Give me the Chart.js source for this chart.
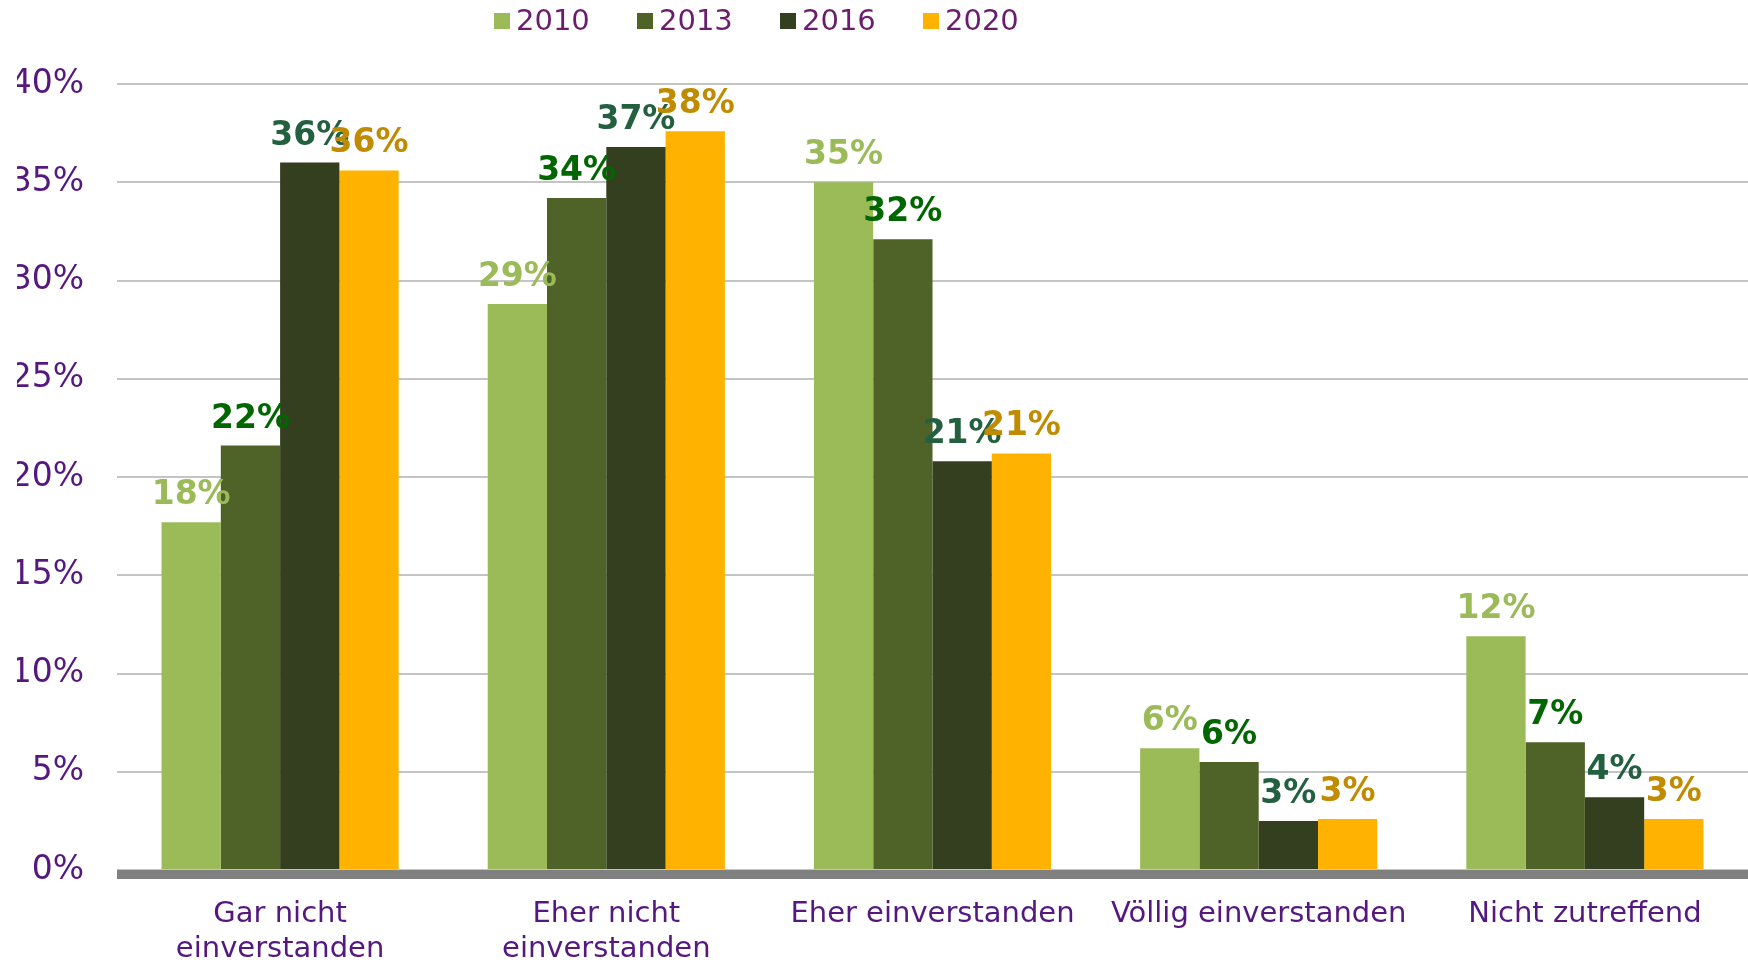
<!DOCTYPE html>
<html>
<head>
<meta charset="utf-8">
<title>Umfrage</title>
<script src="https://cdn.jsdelivr.net/npm/chart.js@4.4.1/dist/chart.umd.min.js"></script>
<style>
  html, body { margin: 0; padding: 0; background: #fff; }
  #wrap { width: 1748px; height: 963px; position: relative; }
</style>
</head>
<body>
<div id="wrap"><canvas id="bar-chart"></canvas></div>
<script>
const categories = [
  ['Gar nicht', 'einverstanden'],
  ['Eher nicht', 'einverstanden'],
  'Eher einverstanden',
  'Völlig einverstanden',
  'Nicht zutreffend'
];
const years = ['2010', '2013', '2016', '2020'];
const values2010 = [17.7, 28.8, 35.0, 6.2, 11.9];
const values2013 = [21.6, 34.2, 32.1, 5.5, 6.5];
const values2016 = [36.0, 36.8, 20.8, 2.5, 3.7];
const values2020 = [35.6, 37.6, 21.2, 2.6, 2.6];
const yMax = 40;
const yStep = 5;

const barColors = ['#9bbb59', '#4f6228', '#333f1f', '#ffb300'];
const labelColors = ['#9bbb59', '#006600', '#23603f', '#c08b00'];
const fontFamily = "'DejaVu Sans', Verdana, sans-serif";
const axisColor = '#54187f';
const legendColor = '#6b1d6d';

// value labels over the bars, the thick baseline and the legend row
const extras = {
  id: 'extras',
  afterDatasetsDraw(chart) {
    const ctx = chart.ctx;
    const area = chart.chartArea;
    ctx.save();

    ctx.fillStyle = '#808080';
    ctx.fillRect(area.left, area.bottom, area.right - area.left, 9);

    ctx.font = 'bold 33px ' + fontFamily;
    ctx.textAlign = 'center';
    ctx.textBaseline = 'alphabetic';
    chart.data.datasets.forEach((ds, i) => {
      ctx.fillStyle = labelColors[i];
      chart.getDatasetMeta(i).data.forEach((bar, j) => {
        ctx.fillText(Math.round(ds.data[j]) + '%', bar.x, bar.y - 18);
      });
    });

    ctx.font = '29px ' + fontFamily;
    ctx.textAlign = 'left';
    ctx.textBaseline = 'middle';
    chart.data.datasets.forEach((ds, i) => {
      const x = 494 + i * 143;
      ctx.fillStyle = ds.backgroundColor;
      ctx.fillRect(x, 13, 16, 16);
      ctx.fillStyle = legendColor;
      ctx.fillText(ds.label, x + 22, 22);
    });

    ctx.restore();
  }
};

const series = [values2010, values2013, values2016, values2020];

const ctx = document.getElementById('bar-chart');
const chart = new Chart(ctx, {
  type: 'bar',
  data: {
    labels: categories,
    datasets: years.map((y, i) => ({
      label: y,
      data: series[i],
      backgroundColor: barColors[i],
      borderWidth: 0,
      categoryPercentage: 0.727,
      barPercentage: 1.0
    }))
  },
  options: {
    responsive: true,
    maintainAspectRatio: false,
    animation: false,
    layout: { padding: { top: 84, left: 17, right: 0, bottom: 0 } },
    plugins: {
      legend: { display: false },
      tooltip: { enabled: false }
    },
    scales: {
      x: {
        grid: { display: false },
        border: { display: false },
        afterFit: scale => { scale.height = 93; },
        ticks: {
          color: axisColor,
          font: { family: fontFamily, size: 29, lineHeight: 1.2 },
          padding: 19,
          maxRotation: 0,
          autoSkip: false
        }
      },
      y: {
        min: 0,
        max: yMax,
        border: { display: false },
        grid: { color: '#c4c4c4', lineWidth: 2, drawTicks: false },
        afterFit: scale => { scale.width = 100; },
        ticks: {
          stepSize: yStep,
          color: axisColor,
          font: { family: fontFamily, size: 33 },
          padding: 33,
          callback: v => v + '%'
        }
      }
    }
  },
  plugins: [extras]
});
</script>
</body>
</html>
